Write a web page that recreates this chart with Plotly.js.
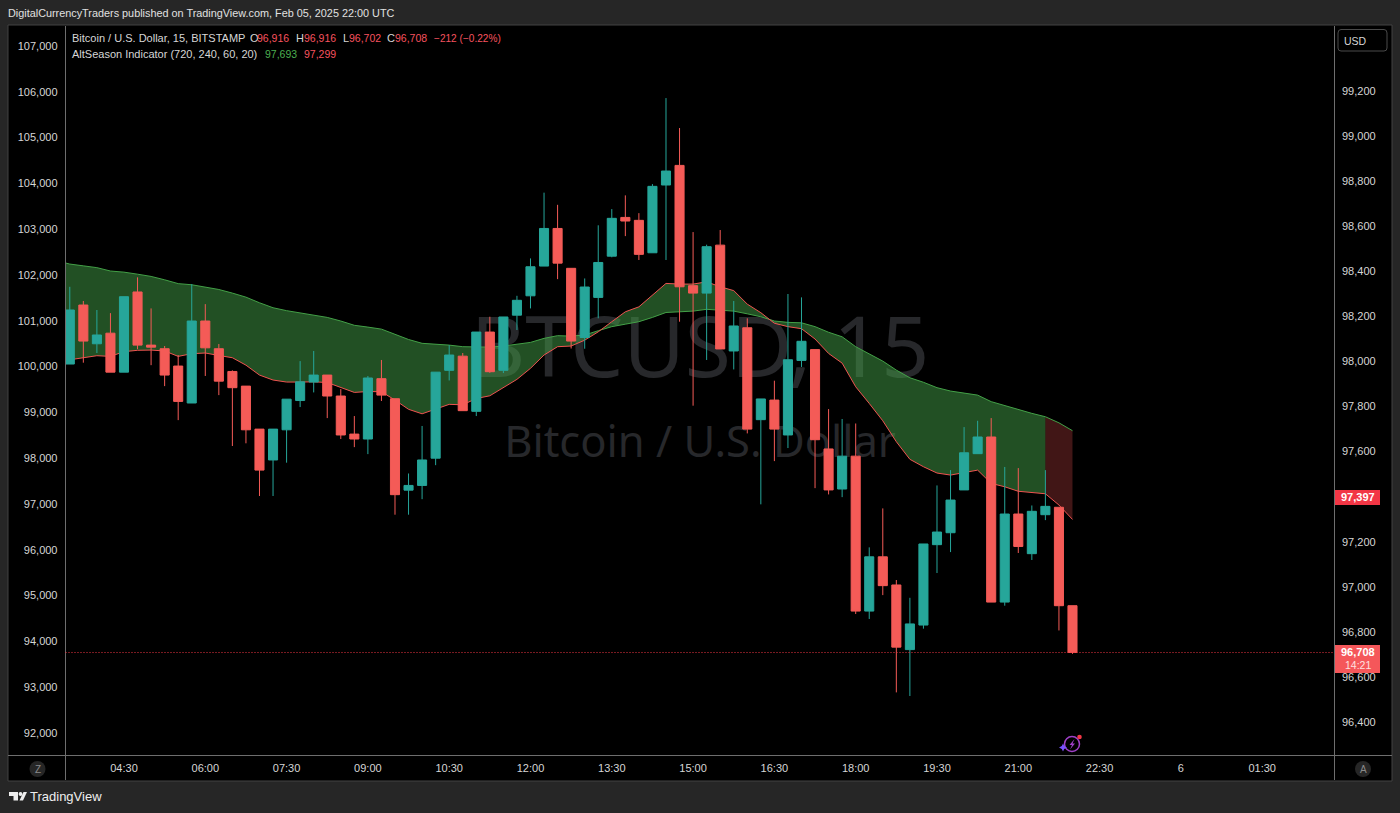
<!DOCTYPE html>
<html>
<head>
<meta charset="utf-8">
<title>BTCUSD 15</title>
<script src="https://cdn.plot.ly/plotly-3.0.1.min.js"></script>
<style>html,body{margin:0;padding:0;background:#262626;overflow:hidden}#chart{width:1400px;height:813px}</style>
</head>
<body>
<div id="chart"></div>
<script>
const opens = [97989,98251,98079,98126,97953,98309,98073,98057,97980,97816,98180,98057,97956,97891,97700,97563,97697,97827,97909,97940,97847,97678,97656,97924,97835,97429,97450,97571,97961,98024,97779,
  98131,97961,98206,98292,98424,98591,98414,98107,98285,98468,98640,98627,98483,98784,98871,98337,98304,98517,98047,98150,97742,97829,97674,98005,98053,97612,97434,97580,96892,97133,97008,96721,96830,97187,97240,97430,97591,97665,96932,97323,97147,97320,97353,96916];
const highs = [98332,98269,98229,98215,98288,98374,98236,98069,98029,98344,98255,98078,97961,97891,97700,97700,97833,98002,98047,97940,97878,97758,97936,98007,97835,97503,97714,97953,98073,98038,98131,
  98199,98198,98292,98458,98750,98696,98414,98369,98605,98677,98738,98659,98788,99170,99037,98575,98519,98584,98269,98192,97834,97915,98300,98285,98053,97789,97745,97725,97175,97348,97030,96951,97190,97450,97518,97709,97737,97749,97532,97527,97361,97518,97353,96916];
const lows = [97989,97995,98038,97953,97953,98055,97984,97891,97740,97816,97936,97851,97625,97637,97403,97403,97551,97798,97863,97749,97656,97620,97589,97825,97320,97320,97389,97540,97916,97782,97758,
  97950,97949,98140,98236,98424,98366,98058,98057,98192,98463,98557,98451,98483,98451,98177,97804,98007,98056,97965,97681,97366,97558,97616,97976,97438,97410,97398,96879,96857,96963,96531,96515,96814,97061,97154,97430,97591,96932,96916,97150,97119,97296,96806,96702];
const closes = [98229,98091,98118,97953,98288,98073,98064,97940,97823,98180,98061,97913,97884,97697,97518,97700,97833,97910,97940,97847,97674,97656,97927,97851,97409,97450,97563,97953,98029,97782,98131,
  97955,98198,98272,98421,98591,98437,98091,98331,98440,98636,98624,98476,98778,98846,98332,98304,98510,98056,98158,97700,97834,97700,98008,98090,97653,97430,97580,96892,97133,97005,96732,96835,97190,97243,97385,97595,97665,96932,97323,97179,97335,97357,96916,96708];
// AltSeason Indicator: first value is the bar before the visible window (03:15)
const bandUpper = [98448,98433,98425,98417,98402,98397,98388,98378,98363,98346,98341,98332,98320,98304,98286,98261,98239,98226,98215,98206,98196,98180,98161,98153,98144,98121,98098,98081,98078,98073,98066,98066,
  98064,98069,98078,98085,98103,98115,98113,98118,98137,98155,98166,98177,98196,98218,98221,98224,98232,98229,98224,98212,98199,98180,98174,98172,98155,98130,98110,98066,98033,98002,97962,97928,97908,97884,97869,97859,97851,97822,97804,97785,97770,97755,97728,97693];
const bandLower = [97999,98007,98018,98026,98023,98044,98050,98051,98047,98023,98035,98038,98027,98017,97984,97940,97918,97909,97909,97910,97907,97885,97863,97867,97866,97829,97788,97768,97788,97810,97808,97836,
  97848,97884,97921,97970,98029,98066,98069,98095,98132,98177,98221,98243,98295,98347,98344,98344,98354,98332,98315,98255,98217,98170,98155,98146,98100,98036,97993,97888,97814,97737,97644,97566,97533,97505,97496,97508,97518,97459,97444,97424,97418,97413,97363,97299];
const startTime = '2025-02-05T03:15:00Z';
const rightTicks = [96400,96600,96800,97000,97200,97400,97600,97800,98000,98200,98400,98600,98800,99000,99200];
const leftTicks = [92000,93000,94000,95000,96000,97000,98000,99000,100000,101000,102000,103000,104000,105000,106000,107000];
const timeTickVals = ['2025-02-05 04:30','2025-02-05 06:00','2025-02-05 07:30','2025-02-05 09:00','2025-02-05 10:30','2025-02-05 12:00','2025-02-05 13:30','2025-02-05 15:00','2025-02-05 16:30','2025-02-05 18:00','2025-02-05 19:30','2025-02-05 21:00','2025-02-05 22:30','2025-02-06 00:00','2025-02-06 01:30'];
const timeTickText = ['04:30','06:00','07:30','09:00','10:30','12:00','13:30','15:00','16:30','18:00','19:30','21:00','22:30','6','01:30'];
const lastPrice = 96708, greenBarsEnd = 74;

// ---- helpers ----
const W = 1400, H = 813;
const px = x => x / W, py = y => 1 - y / H;
const fmt = d => { const p = n => String(n).padStart(2, '0');
  return `${d.getUTCFullYear()}-${p(d.getUTCMonth()+1)}-${p(d.getUTCDate())} ${p(d.getUTCHours())}:${p(d.getUTCMinutes())}`; };
const times = bandUpper.map((_, i) => fmt(new Date(Date.parse(startTime) + i * 900000)));
const barTimes = times.slice(1);
const FONT = 'Liberation Sans, Arial, sans-serif';
const WMFONT = 'Noto Sans, sans-serif';
const TXT = '#d6d6d6';
const UP = '#26a69a', DN = '#f45b57', LINEG = '#43a047', LINER = '#ef5350';

const hidden = {mode:'lines', line:{width:0}, hoverinfo:'skip', showlegend:false, xaxis:'x', yaxis:'y', type:'scatter'};
const traces = [
  {...hidden, x:times.slice(0,greenBarsEnd), y:bandUpper.slice(0,greenBarsEnd)},
  {...hidden, x:times.slice(0,greenBarsEnd), y:bandLower.slice(0,greenBarsEnd), fill:'tonexty', fillcolor:'rgba(67,160,71,0.5)'},
  {...hidden, x:times.slice(greenBarsEnd-1), y:bandUpper.slice(greenBarsEnd-1)},
  {...hidden, x:times.slice(greenBarsEnd-1), y:bandLower.slice(greenBarsEnd-1), fill:'tonexty', fillcolor:'rgba(239,83,80,0.27)'},
  {type:'scatter', mode:'lines', name:'AltSeason upper', x:times, y:bandUpper, line:{color:LINEG, width:1}, hoverinfo:'skip', xaxis:'x', yaxis:'y', showlegend:false},
  {type:'scatter', mode:'lines', name:'AltSeason lower', x:times, y:bandLower, line:{color:LINER, width:1}, hoverinfo:'skip', xaxis:'x', yaxis:'y', showlegend:false},
  {type:'candlestick', name:'BTCUSD', x:barTimes, open:opens, high:highs, low:lows, close:closes, xaxis:'x', yaxis:'y2', showlegend:false,
   increasing:{line:{color:UP, width:1}, fillcolor:UP}, decreasing:{line:{color:DN, width:1}, fillcolor:DN}, whiskerwidth:0},
  // empty trace so that the left-hand price scale is drawn
  {type:'scatter', mode:'lines', x:[null], y:[null], xaxis:'x', yaxis:'y3', hoverinfo:'skip', showlegend:false, line:{width:0}}
];

const rect = (x0,y0,x1,y1,fill,line,layer) => ({type:'rect', xref:'paper', yref:'paper', x0:px(x0), x1:px(x1), y0:py(y0), y1:py(y1),
  fillcolor:fill||'rgba(0,0,0,0)', line:{color:line||'rgba(0,0,0,0)', width:line?1:0}, layer:layer||'below'});
const hline = (x0,x1,y,c) => ({type:'line', xref:'paper', yref:'paper', x0:px(x0), x1:px(x1), y0:py(y), y1:py(y), line:{color:c, width:1}, layer:'above'});
const vline = (x,y0,y1,c) => ({type:'line', xref:'paper', yref:'paper', x0:px(x), x1:px(x), y0:py(y0), y1:py(y1), line:{color:c, width:1}, layer:'above'});
const circle = (cx,cy,r,fill,line) => ({type:'circle', xref:'paper', yref:'paper', x0:px(cx-r), x1:px(cx+r), y0:py(cy-r), y1:py(cy+r),
  fillcolor:fill||'rgba(0,0,0,0)', line:{color:line||'rgba(0,0,0,0)', width:line?1.5:0}, layer:'above'});
const poly = (pts,fill) => ({type:'path', xref:'paper', yref:'paper', path:'M'+pts.map(p=>px(p[0])+','+py(p[1])).join('L')+'Z', fillcolor:fill, line:{width:0}, layer:'above'});
const watermark = (y0,y1,text,size) => ({type:'rect', xref:'paper', yref:'paper', x0:px(300), x1:px(1100), y0:py(y0), y1:py(y1),
  line:{width:0}, fillcolor:'rgba(0,0,0,0)', layer:'below',
  label:{text, font:{family:WMFONT, size, color:'#27282b'}, textposition:'middle center'}});

const shapes = [
  rect(8,25,1392,781,'#000000','#434343'),
  watermark(290,410,'BTCUSD, 15',84),
  watermark(413,473,'Bitcoin / U.S. Dollar',43.5),
  vline(65.5,26,780,'#6e6e6e'), vline(1334.5,26,780,'#6e6e6e'), hline(8,1392,755.5,'#6e6e6e'),
  {type:'line', xref:'paper', yref:'y', x0:px(65.5), x1:px(1334), y0:lastPrice, y1:lastPrice, line:{color:'#f23645', width:1, dash:'1px,2px'}, layer:'above'},
  // price tags
  rect(1335,490,1380,505,'#f23645',null,'above'),
  rect(1335,645,1380,673,'#f5575a',null,'above'),
  // USD box
  {type:'path', xref:'paper', yref:'paper', layer:'above', fillcolor:'rgba(0,0,0,0)', line:{color:'#4a4a4a', width:1},
   path:`M${px(1341)},${py(29.5)}L${px(1384)},${py(29.5)}Q${px(1387)},${py(29.5)} ${px(1387)},${py(33)}L${px(1387)},${py(48)}Q${px(1387)},${py(51)} ${px(1384)},${py(51)}L${px(1341)},${py(51)}Q${px(1338)},${py(51)} ${px(1338)},${py(48)}L${px(1338)},${py(33)}Q${px(1338)},${py(29.5)} ${px(1341)},${py(29.5)}Z`},
  // Z and A buttons
  circle(37.5,769,8,'#262626'), circle(1363,769,8,'#262626'),
  // assistant icon
  circle(1072,744,7.5,null,'#a040c8'), circle(1079.5,737,2.3,'#f23645'),
  poly([[1074.5,739],[1069.5,745],[1072,745],[1070,749.5],[1075,743.5],[1072.5,743.5]],'#a040c8'),
  poly([[1063,743.5],[1064.2,746],[1067,747.5],[1064.2,749],[1063,751.5],[1061.8,749],[1059,747.5],[1061.8,746]],'#7a52ff'),
  // TradingView logo
  poly([[9,792],[18,792],[18,800.5],[13.5,800.5],[13.5,796],[9,796]],'#eeeeee'),
  circle(20.5,794,1.9,'#eeeeee'),
  poly([[23.5,792],[27,792],[23,800.5],[19.5,800.5]],'#eeeeee')
];

const note = (x,y,text,o={}) => ({xref:'paper', yref:'paper', x:px(x), y:py(y), text, showarrow:false,
  xanchor:o.xa||'left', yanchor:'middle', align:o.xa||'left', borderpad:0, borderwidth:0,
  font:{family:FONT, size:o.size||11, color:o.color||TXT}});
const R = '#f7525f', G = '#4caf50';
const annotations = [
  note(7.5,13.5,'DigitalCurrencyTraders published on TradingView.com, Feb 05, 2025 22:00 UTC',{color:'#e0e0e0',size:10.85}),
  note(72,38,'Bitcoin / U.S. Dollar, 15, BITSTAMP'),
  note(249.5,38,'O'), note(257,38,'96,916',{color:R,size:10.5}),
  note(295.5,38,'H'), note(304,38,'96,916',{color:R,size:10.5}),
  note(342.5,38,'L'), note(349,38,'96,702',{color:R,size:10.5}),
  note(387,38,'C'), note(395,38,'96,708',{color:R,size:10.5}),
  note(433.5,38,'−212 (−0.22%)',{color:R,size:10.1}),
  note(72,53.5,'AltSeason Indicator (720, 240, 60, 20)'),
  note(264.5,53.5,'97,693',{color:G,size:10.5}), note(303.5,53.5,'97,299',{color:R,size:10.5}),
  note(1355,41,'USD',{xa:'center',size:10.5}),
  note(1358,497,'<b>97,397</b>',{xa:'center',color:'#ffffff'}),
  note(1358,651.5,'<b>96,708</b>',{xa:'center',color:'#ffffff',size:11}),
  note(1358,664.8,'14:21',{xa:'center',color:'#ffe0e0',size:10.5}),
  note(37.5,769.5,'Z',{xa:'center',color:'#8a8a8a',size:10}),
  note(1363,769.5,'A',{xa:'center',color:'#8a8a8a',size:10}),
  note(30,796.5,'TradingView',{color:'#eeeeee',size:13})
];

const rightRange = [96253, 99490], leftRange = [91520, 107437];
const yDomain = [py(755), py(26)];
const tickFont = {family:FONT, size:11, color:TXT};
const layout = {
  width:W, height:H, margin:{l:0,r:0,t:0,b:0,pad:0}, paper_bgcolor:'#262626', plot_bgcolor:'#000000', showlegend:false, hovermode:false,
  dragmode:false, boxgap:0.33, boxgroupgap:0,
  xaxis:{type:'date', domain:[px(65.5),px(1334)], range:['2025-02-05 03:25:15','2025-02-06 02:49:30'], anchor:'y', showgrid:false, zeroline:false,
    tickmode:'array', tickvals:timeTickVals, ticktext:timeTickText, ticks:'', tickfont:tickFont, ticklabelstandoff:5, showline:false, rangeslider:{visible:false}},
  yaxis:{domain:yDomain, range:rightRange, side:'right', anchor:'x', showgrid:false, zeroline:false, tickmode:'array', tickvals:rightTicks, tickformat:',d',
    ticks:'', tickfont:tickFont, ticklabelstandoff:7, showline:false},
  yaxis2:{domain:yDomain, range:rightRange, overlaying:'y', side:'right', anchor:'x', showgrid:false, zeroline:false, showticklabels:false, ticks:'', showline:false},
  yaxis3:{domain:yDomain, range:leftRange, overlaying:'y', side:'left', anchor:'x', showgrid:false, zeroline:false, tickmode:'array', tickvals:leftTicks, tickformat:',d',
    ticks:'', tickfont:tickFont, ticklabelstandoff:7, showline:false},
  shapes, annotations
};
Plotly.newPlot('chart', traces, layout, {displayModeBar:false, staticPlot:true});
</script>
</body>
</html>
